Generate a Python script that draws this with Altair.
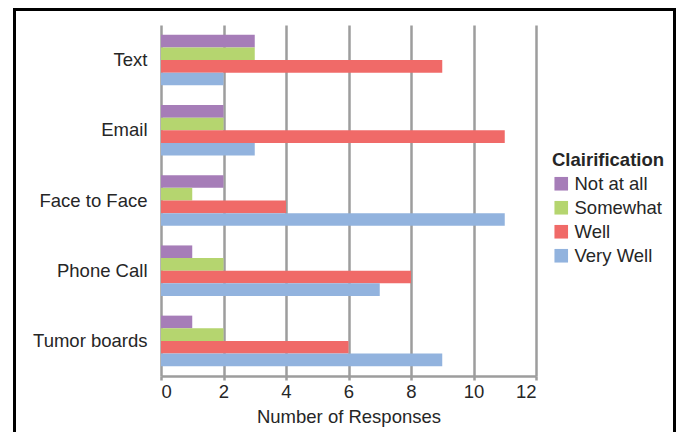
import altair as alt
import pandas as pd

categories = ["Text", "Email", "Face to Face", "Phone Call", "Tumor boards"]
series = ["Not at all", "Somewhat", "Well", "Very Well"]
colors = ["#a67db8", "#b5d56f", "#f06a68", "#92b3de"]
not_at_all = [3, 2, 2, 1, 1]
somewhat = [3, 2, 1, 2, 2]
well = [9, 11, 4, 8, 6]
very_well = [2, 3, 11, 7, 9]
x_ticks = [0, 2, 4, 6, 8, 10, 12]

rows = []
for s, vals in zip(series, [not_at_all, somewhat, well, very_well]):
    for c, v in zip(categories, vals):
        rows.append({"Category": c, "Clairification": s, "Responses": v})
df = pd.DataFrame(rows)

FONT = "Liberation Sans"
FS = 18.5

bars = alt.Chart(df).mark_bar().encode(
    y=alt.Y("Category:N", sort=categories,
            scale=alt.Scale(paddingInner=0.28, paddingOuter=0.14),
            axis=alt.Axis(title=None, domain=False, ticks=False, grid=False,
                          labelPadding=14, labelFontSize=FS, labelColor="#262626",
                          labelFont=FONT)),
    yOffset=alt.YOffset("Clairification:N", sort=series,
                        scale=alt.Scale(paddingInner=0, paddingOuter=0)),
    x=alt.X("Responses:Q", scale=alt.Scale(domain=[0, 12], nice=False),
            axis=alt.Axis(title="Number of Responses", values=x_ticks,
                          grid=True, gridColor="#9d9d9d", gridWidth=2.5,
                          domainColor="#9d9d9d", domainWidth=2.5,
                          tickColor="#9d9d9d", tickWidth=2.5, tickSize=4,
                          labelFontSize=FS, labelColor="#262626", labelFont=FONT,
                          labelPadding=2, titleFontSize=FS, titleFontWeight="normal",
                          titleColor="#262626", titleFont=FONT, titlePadding=7)),
    color=alt.Color("Clairification:N", sort=series,
                    scale=alt.Scale(domain=series, range=colors),
                    legend=alt.Legend(orient="none", legendX=391, legendY=126,
                                      symbolType="square", symbolSize=185,
                                      symbolStrokeWidth=0, labelFontSize=FS,
                                      labelColor="#262626", labelFont=FONT,
                                      titleFontSize=FS, titleFont=FONT,
                                      titleColor="#262626", titleFontWeight="bold",
                                      rowPadding=5, labelOffset=4, titlePadding=5)),
)

frame = alt.Chart(df).mark_rect(fill=None, stroke="black", strokeWidth=3).encode(
    x=alt.value(-146.5), x2=alt.value(513.5), y=alt.value(-15.5), y2=alt.value(440)
)

chart = alt.layer(bars, frame).properties(
    width=375, height=351,
    autosize=alt.AutoSizeParams(type="none"),
    padding={"left": 153, "top": 17, "right": 140, "bottom": 56},
).configure_view(stroke=None)

chart.save("out.html", embed_options={"renderer": "svg", "actions": False})
